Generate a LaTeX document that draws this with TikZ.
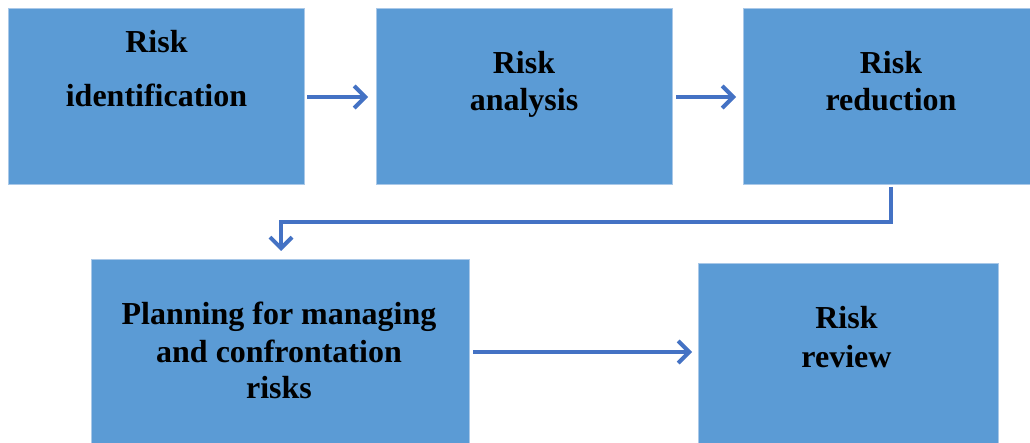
\documentclass[tikz,border=0pt]{standalone}
\usepackage{fontspec}
\setmainfont{Liberation Serif}
\usetikzlibrary{arrows.meta}
\definecolor{boxblue}{HTML}{5B9BD5}
\definecolor{boxedge}{HTML}{A9C8E8}
\definecolor{arrowblue}{HTML}{4472C4}
\begin{document}
\begin{tikzpicture}[x=1pt,y=-1pt,
  box/.style={inner sep=0pt,fill=boxblue,draw=boxedge,line width=0.8pt},
  lbl/.style={anchor=base,inner sep=0pt,font=\bfseries\fontsize{32}{37}\selectfont},
  conn/.style={draw=arrowblue,line width=4.5pt,
    -{Straight Barb[length=11pt,width=22pt,line width=4pt]}}]
\useasboundingbox[fill=white] (0,0) rectangle (1030,443);
% boxes
\node[box,minimum width=296pt,minimum height=176pt] (b1) at (156,96) {};
\node[box,minimum width=296pt,minimum height=176pt] (b2) at (524,96) {};
\node[box,minimum width=287pt,minimum height=176pt] (b3) at (886.5,96) {};
\node[box,minimum width=378pt,minimum height=184pt] (b4) at (280,351) {};
\node[box,minimum width=300pt,minimum height=180pt] (b5) at (848,353) {};
% texts
\node[lbl] (t1a) at (156.5,53) {Risk};
\node[lbl] (t1b) at (156.5,107) {identification};
\node[lbl] (t2a) at (524,74) {Risk};
\node[lbl] (t2b) at (524,111) {analysis};
\node[lbl] (t3a) at (891,74) {Risk};
\node[lbl] (t3b) at (891,111) {reduction};
\node[lbl] (t4a) at (279,324) {Planning for managing};
\node[lbl] (t4b) at (279,362) {and confrontation};
\node[lbl] (t4c) at (279,398) {risks};
\node[lbl] (t5a) at (846.5,329) {Risk};
\node[lbl] (t5b) at (846.5,367) {review};
% connector end points
\coordinate (a1s) at (307,97);
\coordinate (a1e) at (368,97);
\coordinate (a2s) at (676,97);
\coordinate (a2e) at (736,97);
\coordinate (c3s) at (891,187);
\coordinate (c3m) at (891,222);
\coordinate (c4e) at (281,251);
\coordinate (a5s) at (473,352);
\coordinate (a5e) at (692,352);
% connectors
\draw[conn] (a1s) -- (a1e);
\draw[conn] (a2s) -- (a2e);
\draw[conn] (c3s) -- (c3m) -| (c4e);
\draw[conn] (a5s) -- (a5e);
\end{tikzpicture}
\end{document}
